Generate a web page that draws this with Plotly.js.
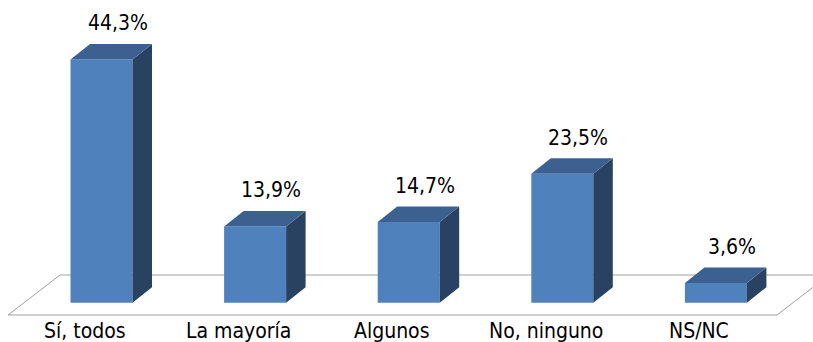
<!DOCTYPE html>
<html>
<head>
<meta charset="utf-8">
<script src="https://cdn.plot.ly/plotly-3.0.1.min.js"></script>
<style>html,body{margin:0;padding:0;background:#fff;}#chart{width:813px;height:342px;}</style>
</head>
<body>
<div id="chart"></div>
<script>
// ---- data ----
const categories = ["Sí, todos", "La mayoría", "Algunos", "No, ninguno", "NS/NC"];
const values = [44.3, 13.9, 14.7, 23.5, 3.6];

// ---- style / geometry (pixels) ----
const W = 813, H = 342;
const marginB = 25;
const plotH = H - marginB;
const zeroPx = 302.7;        // pixel row of value 0
const pxPerUnitY = 5.49;
const firstCatPx = 101.5;    // pixel column of first bar centre
const pxPerCat = 153.6;
const barWpx = 62;
const depthXpx = 19.5, depthYpx = 15.5;
const labelShiftX = 16, labelShiftY = 36;
const tickShiftPx = 16.5;

const xr = [-firstCatPx / pxPerCat, (W - firstCatPx) / pxPerCat];
const yr = [-(plotH - zeroPx) / pxPerUnitY, zeroPx / pxPerUnitY];
const px2x = p => (p - firstCatPx) / pxPerCat;
const px2y = p => (zeroPx - p) / pxPerUnitY;

const barW = barWpx / pxPerCat;
const DX = depthXpx / pxPerCat, DY = depthYpx / pxPerUnitY;
const idx = categories.map((c, i) => i);

const FRONT = "#4F81BD", SIDE = "#2A4262", TOP = "#3C6190";

const traces = [{
  type: "bar", x: idx, y: values, width: barW,
  marker: {color: FRONT, line: {width: 0}},
  hoverinfo: "skip", showlegend: false
}];
values.forEach((v, i) => {
  const l = i - barW / 2, r = i + barW / 2;
  traces.push({
    type: "scatter", mode: "lines", fill: "toself", fillcolor: SIDE,
    line: {width: 0, color: SIDE},
    x: [r, r + DX, r + DX, r, r], y: [0, DY, v + DY, v, 0],
    hoverinfo: "skip", showlegend: false
  });
  traces.push({
    type: "scatter", mode: "lines", fill: "toself", fillcolor: TOP,
    line: {width: 0, color: TOP},
    x: [l, l + DX, r + DX, r, l], y: [v, v + DY, v + DY, v, v],
    hoverinfo: "skip", showlegend: false
  });
});

const floorPts = [[8, 315], [60, 275], [829, 275], [777, 315]];
const floorPath = "M" + floorPts.map(p => px2x(p[0]) + "," + px2y(p[1])).join(" L") + " Z";

const fontFam = "DejaVu Sans Condensed, DejaVu Sans, Verdana, sans-serif";
const annotations = values.map((v, i) => ({
  x: i, y: v, xref: "x", yref: "y",
  text: v.toFixed(1).replace(".", ",") + "%",
  showarrow: false, xshift: labelShiftX, yshift: labelShiftY,
  font: {family: fontFam, size: 21, color: "#000"}
}));
categories.forEach((c, i) => {
  annotations.push({
    x: i - tickShiftPx / pxPerCat, xref: "x", y: 0, yref: "paper",
    yanchor: "top", xanchor: "center", yshift: -1, borderpad: 0,
    text: c, showarrow: false,
    font: {family: fontFam, size: 21, color: "#000"}
  });
});

const layout = {
  width: W, height: H,
  margin: {l: 0, r: 0, t: 0, b: marginB, pad: 0},
  paper_bgcolor: "#fff", plot_bgcolor: "rgba(0,0,0,0)",
  showlegend: false,
  xaxis: {
    range: xr, showticklabels: false,
    showgrid: false, zeroline: false, showline: false, ticks: "", fixedrange: true
  },
  yaxis: {range: yr, visible: false, showgrid: false, zeroline: false, fixedrange: true},
  shapes: [{type: "path", path: floorPath, xref: "x", yref: "y", layer: "below",
            line: {color: "#A0A0A0", width: 1}, fillcolor: "rgba(0,0,0,0)"}],
  annotations: annotations
};

Plotly.newPlot("chart", traces, layout, {staticPlot: true, displayModeBar: false});
</script>
</body>
</html>
